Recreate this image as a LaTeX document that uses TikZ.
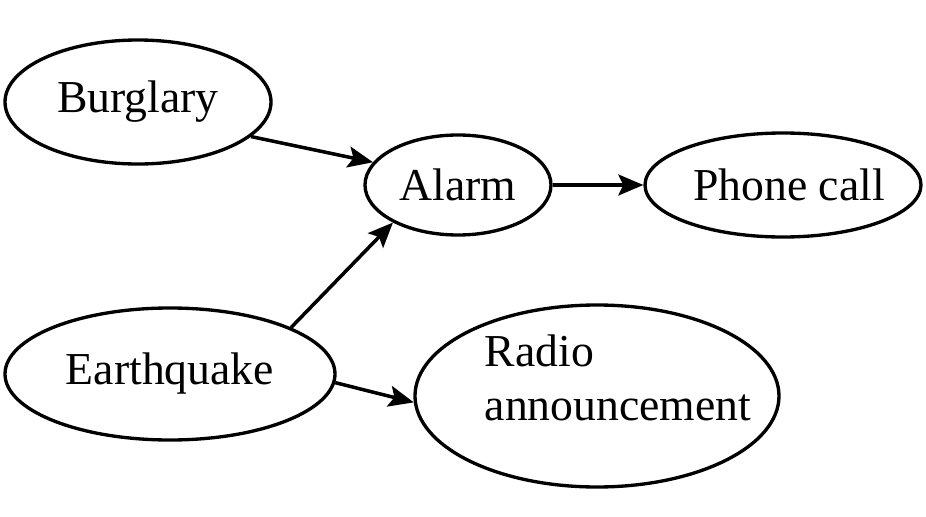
\documentclass[tikz,border=0pt]{standalone}
\usepackage{fontspec}
\setmainfont{Liberation Serif}
\usetikzlibrary{arrows.meta,shapes.geometric}

\begin{document}
\begin{tikzpicture}[
		event/.style={draw, ellipse, line width=1.9pt, inner sep=0pt},
		link/.style={line width=2pt, -{Stealth[length=0.5cm, width=0.42cm, inset=0.1cm]}}
	]
		%%%%% START %%%%%
		\useasboundingbox (0, 0) rectangle (18.52, 10.32);
		\fontsize{26}{31}\selectfont
		
		\node[event, minimum width=5.32cm, minimum height=2.48cm] (burglary) at (2.76, 8.28) {Burglary};
		\node[event, minimum width=3.72cm, minimum height=2.0cm] (alarm) at (9.16, 6.62) {Alarm};
		\node[event, minimum width=5.52cm, minimum height=2.08cm] (phone) at (15.66, 6.62) {};
		\node (phonetext) at (15.78, 6.62) {Phone call};
		\node[event, minimum width=6.6cm, minimum height=2.64cm] (quake) at (3.4, 2.84) {Earthquake};
		\node[event, minimum width=7.28cm, minimum height=3.64cm] (radio) at (11.94, 2.4) {};
		\node[align=left, anchor=center] (radiotext) at (12.36, 2.76) {Radio\\announcement};
		
		\draw[link] (burglary.-17) -- (alarm.165);
		\draw[link] (quake.21) -- (alarm.210);
		\draw[link] (alarm) -- (phone);
		\draw[link] (quake.-3) -- (radio.182);
		%%%%% END %%%%%
	\end{tikzpicture}
\end{document}
